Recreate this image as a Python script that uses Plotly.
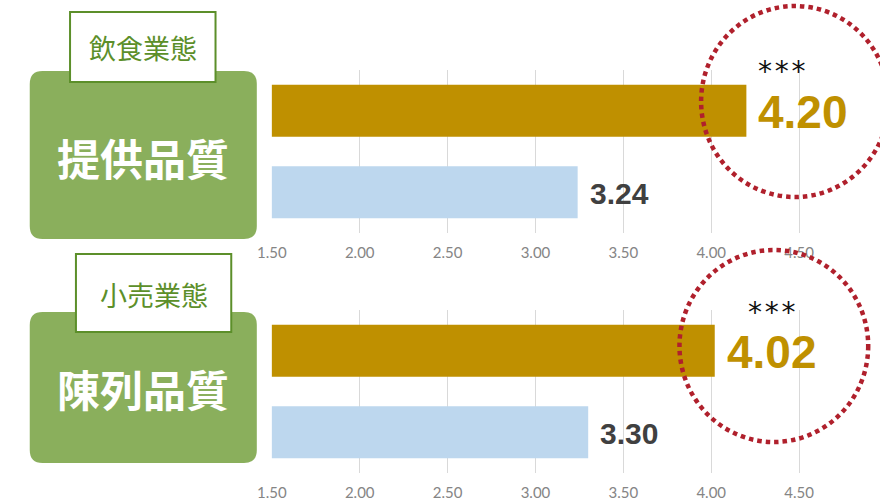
import plotly.graph_objects as go

# ---------------- data ----------------
panels = ["提供品質", "陳列品質"]
sectors = ["飲食業態", "小売業態"]
series_names = ["上位", "下位"]
gold_values = [4.20, 4.02]
blue_values = [3.24, 3.30]
significance = ["***", "***"]
tick_values = [1.5, 2.0, 2.5, 3.0, 3.5, 4.0, 4.5]
tick_labels = ["1.50", "2.00", "2.50", "3.00", "3.50", "4.00", "4.50"]

# ---------------- style / geometry (pixels) ----------------
W, H = 880, 502
GOLD = "#BF9000"
BLUE = "#BDD7EE"
GREEN = "#8AAF5C"
DARK_GREEN = "#5C8F2A"
RED = "#B0202C"
GRID = "#D9D9D9"
VALUE_DARK = "#404040"

px_axis_start = 261.3
px_per_unit = 178.8
x_range = [1.5, 1.5 + (W - px_axis_start) / px_per_unit]
plot_rows = [(70, 233), (310, 473)]
big_boxes = [(15, 71, 246, 239), (15, 312, 246, 463)]
small_boxes = [(56, 12, 204, 82), (62, 254, 220, 332)]
title_centers = [(130, 157), (130, 388)]
sector_centers = [(130, 47), (141, 294)]
circles = [(698, 6, 889, 197), (676, 250, 868, 442)]
# per-panel layout of the "stars over value" label: line step font size, alignment
star_line_font = [36.4, 35.6]
star_align = ["left", "center"]


def fx(px):
    return px / W


def fy(py):
    return 1 - py / H


def rounded_rect_path(x0, y0, x1, y1, r):
    pts = [
        ("M", [(x0 + r, y0)]),
        ("L", [(x1 - r, y0)]),
        ("Q", [(x1, y0), (x1, y0 + r)]),
        ("L", [(x1, y1 - r)]),
        ("Q", [(x1, y1), (x1 - r, y1)]),
        ("L", [(x0 + r, y1)]),
        ("Q", [(x0, y1), (x0, y1 - r)]),
        ("L", [(x0, y0 + r)]),
        ("Q", [(x0, y0), (x0 + r, y0)]),
    ]
    s = ""
    for cmd, ps in pts:
        s += cmd + " " + " ".join(f"{fx(a):.5f},{fy(b):.5f}" for a, b in ps) + " "
    return s + "Z"


fig = go.Figure()
annotations = []
shapes = []

for i in range(len(panels)):
    sfx = "" if i == 0 else str(i + 1)
    xa, ya = "x" + sfx, "y" + sfx
    fig.add_trace(go.Bar(
        x=[gold_values[i], blue_values[i]],
        y=series_names,
        orientation="h",
        marker=dict(color=[GOLD, BLUE], line=dict(width=0)),
        width=0.64,
        xaxis=xa, yaxis=ya,
        showlegend=False,
        hoverinfo="skip",
    ))
    top, bot = plot_rows[i]
    fig.update_layout(**{
        "xaxis" + sfx: dict(
            domain=[fx(px_axis_start), 1],
            range=x_range,
            anchor=ya,
            tickmode="array",
            tickvals=tick_values,
            ticktext=tick_labels,
            showgrid=True, gridcolor=GRID, gridwidth=1,
            zeroline=False, showline=False,
            ticks="outside", ticklen=6, tickcolor="rgba(0,0,0,0)",
            tickfont=dict(family="Lato, DejaVu Sans, sans-serif", size=15, color="#858585"),
            fixedrange=True,
        ),
        "yaxis" + sfx: dict(
            domain=[fy(bot), fy(top)],
            type="category",
            categoryorder="array",
            categoryarray=series_names,
            range=[1.5, -0.5],
            anchor=xa,
            showticklabels=False, showgrid=False, zeroline=False, showline=False,
            fixedrange=True,
        ),
    })

    # significance stars + highlighted value (one text block)
    stars = "\u200a".join(significance[i])
    label = (
        f"<span style='font-family:DejaVu Sans;font-size:28px;color:#111111;font-weight:normal'>{stars}</span>"
        f"<br><span style='font-size:46px;color:{GOLD};font-weight:bold'>{gold_values[i]:.2f}</span>"
    )
    annotations.append(dict(
        x=gold_values[i], y=series_names[0], xref=xa, yref=ya,
        text=label, showarrow=False, align=star_align[i],
        xanchor="left", yanchor="bottom", xshift=10, yshift=-29.5,
        font=dict(family="Liberation Sans, Arial, sans-serif", size=star_line_font[i], color=GOLD),
    ))
    annotations.append(dict(
        x=blue_values[i], y=series_names[1], xref=xa, yref=ya,
        text=f"{blue_values[i]:.2f}", showarrow=False,
        xanchor="left", yanchor="middle", xshift=10, yshift=-1,
        font=dict(family="Liberation Sans, Arial, sans-serif", size=30, color=VALUE_DARK, weight="bold"),
    ))

    # green rounded box, white sector tag, red dotted circle
    bx0, by0, bx1, by1 = big_boxes[i]
    shapes.append(dict(type="path", xref="paper", yref="paper",
                       path=rounded_rect_path(bx0, by0, bx1, by1, 13),
                       fillcolor=GREEN, line=dict(width=0), layer="above"))
    sx0, sy0, sx1, sy1 = small_boxes[i]
    shapes.append(dict(type="rect", xref="paper", yref="paper",
                       x0=fx(sx0), x1=fx(sx1), y0=fy(sy1), y1=fy(sy0),
                       fillcolor="white", line=dict(color=DARK_GREEN, width=2), layer="above"))
    cx0, cy0, cx1, cy1 = circles[i]
    shapes.append(dict(type="circle", xref="paper", yref="paper",
                       x0=fx(cx0), x1=fx(cx1), y0=fy(cy1), y1=fy(cy0),
                       line=dict(color=RED, width=4.5, dash="4.5px,4px"),
                       fillcolor="rgba(0,0,0,0)", layer="above"))

    tx, ty = title_centers[i]
    annotations.append(dict(
        x=fx(tx), y=fy(ty), xref="paper", yref="paper",
        text=panels[i], showarrow=False, xanchor="center", yanchor="middle",
        font=dict(family="Noto Sans CJK JP", size=43, color="white", weight="bold"),
    ))
    stx, sty = sector_centers[i]
    annotations.append(dict(
        x=fx(stx), y=fy(sty), xref="paper", yref="paper",
        text=sectors[i], showarrow=False, xanchor="center", yanchor="middle",
        font=dict(family="Noto Sans CJK JP", size=27, color=DARK_GREEN),
    ))

fig.update_layout(
    width=W, height=H,
    margin=dict(l=0, r=0, t=0, b=0),
    paper_bgcolor="white", plot_bgcolor="white",
    annotations=annotations,
    shapes=shapes,
    bargap=0.36,
)

fig.write_html("out.html")
